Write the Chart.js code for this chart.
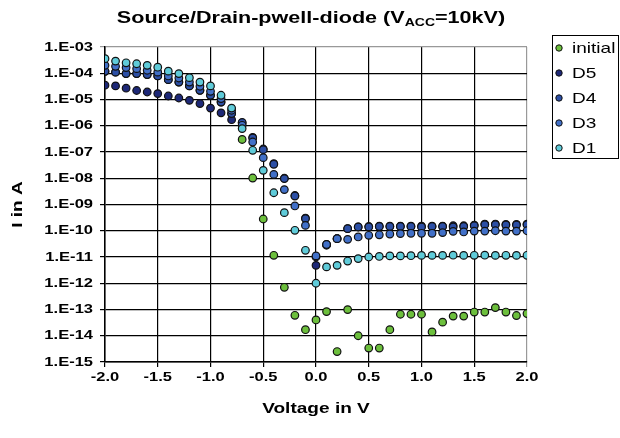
<!DOCTYPE html>
<html><head><meta charset="utf-8">
<script src="https://cdn.jsdelivr.net/npm/chart.js@4/dist/chart.umd.min.js"></script>
<style>
html,body{margin:0;padding:0;background:#fff;}
#wrap{position:relative;width:620px;height:438px;}
#title{position:absolute;left:0;top:8px;width:622px;text-align:center;font:bold 17px "Liberation Sans",Arial,sans-serif;color:#000;line-height:20px;transform:scaleX(1.27);transform-origin:311px 50%;}
#title sub{font-size:11px;vertical-align:-3px;line-height:0;}
canvas{position:absolute;left:0;top:0;}
</style></head>
<body>
<div id="wrap">
<canvas id="c" width="620" height="438"></canvas>
<div id="title">Source/Drain-pwell-diode (V<sub>ACC</sub>=10kV)</div>
</div>
<script>
const voltage = [-2.0,-1.9,-1.8,-1.7,-1.6,-1.5,-1.4,-1.3,-1.2,-1.1,-1.0,-0.9,-0.8,-0.7,-0.6,-0.5,-0.4,-0.3,-0.2,-0.1,0.0,0.1,0.2,0.3,0.4,0.5,0.6,0.7,0.8,0.9,1.0,1.1,1.2,1.3,1.4,1.5,1.6,1.7,1.8,1.9,2.0];

const initial = [1.19e-4,1.1e-4,9.7e-5,9.7e-5,8.9e-5,7.9e-5,5.7e-5,4.6e-5,3.3e-5,2.24e-5,1.45e-5,8.0e-6,2.9e-6,3.0e-7,1.02e-8,2.8e-10,1.16e-11,7.0e-13,6.0e-14,1.7e-14,4.0e-14,8.3e-14,2.5e-15,9.9e-14,1.0e-14,3.4e-15,3.4e-15,1.7e-14,6.6e-14,6.6e-14,6.6e-14,1.4e-14,3.3e-14,5.6e-14,5.6e-14,8.0e-14,8.0e-14,1.18e-13,8.0e-14,5.9e-14,7.0e-14];

const d5 = [3.5e-5,3.3e-5,2.7e-5,2.2e-5,1.93e-5,1.68e-5,1.36e-5,1.14e-5,9.3e-6,7.0e-6,4.7e-6,3.1e-6,1.7e-6,1.27e-6,3.6e-7,1.3e-7,3.6e-8,1.0e-8,2.2e-9,3.0e-10,4.8e-12,2.8e-11,5.0e-11,1.2e-10,1.4e-10,1.45e-10,1.5e-10,1.5e-10,1.5e-10,1.5e-10,1.5e-10,1.5e-10,1.5e-10,1.55e-10,1.55e-10,1.65e-10,1.8e-10,1.8e-10,1.75e-10,1.75e-10,1.8e-10];

const d4 = [1.19e-4,1.1e-4,9.7e-5,9.7e-5,8.9e-5,7.9e-5,5.7e-5,4.6e-5,3.3e-5,2.24e-5,1.45e-5,8.0e-6,2.9e-6,1.35e-6,3.4e-7,1.23e-7,3.4e-8,9.7e-9,2.1e-9,2.9e-10,1.0e-11,3.0e-11,5.0e-11,1.2e-10,1.39e-10,1.4e-10,1.45e-10,1.45e-10,1.45e-10,1.45e-10,1.4e-10,1.45e-10,1.45e-10,1.4e-10,1.45e-10,1.55e-10,1.7e-10,1.7e-10,1.65e-10,1.65e-10,1.7e-10];

const d3 = [2.0e-4,1.84e-4,1.64e-4,1.5e-4,1.3e-4,1.1e-4,7.9e-5,6.6e-5,4.6e-5,3.2e-5,2.05e-5,1.08e-5,3.9e-6,1.04e-6,2.4e-7,6.1e-8,1.4e-8,3.7e-9,8.8e-10,1.6e-10,1.1e-11,3.0e-11,5.0e-11,4.7e-11,5.8e-11,6.7e-11,7.0e-11,7.5e-11,7.8e-11,8.0e-11,8.0e-11,8.0e-11,8.5e-11,9.5e-11,9.0e-11,9.7e-11,9.7e-11,1.0e-10,9.7e-11,9.7e-11,1.0e-10];

const d1 = [3.6e-4,2.9e-4,2.5e-4,2.3e-4,2.0e-4,1.7e-4,1.2e-4,9.7e-5,6.8e-5,4.6e-5,3.3e-5,1.45e-5,4.7e-6,7.8e-7,1.16e-7,2.0e-8,2.8e-9,4.9e-10,1.04e-10,1.8e-11,1.0e-12,4.2e-12,4.8e-12,7.0e-12,8.7e-12,1.0e-11,1.05e-11,1.1e-11,1.1e-11,1.12e-11,1.15e-11,1.15e-11,1.15e-11,1.17e-11,1.15e-11,1.16e-11,1.17e-11,1.15e-11,1.16e-11,1.15e-11,1.16e-11];

const seriesNames = ['initial','D5','D4','D3','D1'];
const yTicks = [1e-3,1e-4,1e-5,1e-6,1e-7,1e-8,1e-9,1e-10,1e-11,1e-12,1e-13,1e-14,1e-15];
const xTicks = [-2.0,-1.5,-1.0,-0.5,0.0,0.5,1.0,1.5,2.0];

const colors = ['#6cbf3c','#1d2877','#2c4fa5','#4170c8','#5fcbd9'];
const seriesData = [initial,d5,d4,d3,d1];

const FONT = '"Liberation Sans", Arial, sans-serif';
const SX = 1.27; // horizontal text stretch seen in the reference

function pts(arr){ return voltage.map((v,i)=>({x:v,y:arr[i]})); }
function fmtExp(v){
  const e = Math.round(Math.log10(v));
  const a = Math.abs(e);
  return '1.E' + (e<0?'-':'+') + (a<10?'0':'') + a;
}

const canvas = document.getElementById('c');
const c2d = canvas.getContext('2d');
const origFill = c2d.fillText.bind(c2d);
c2d.fillText = function(t,x,y){
  this.save(); this.translate(x,y); this.scale(SX,1); origFill(t,0,0); this.restore();
};

const datasets = seriesNames.map((n,i)=>({
  label:n,
  data:pts(seriesData[i]),
  backgroundColor:colors[i],
  borderColor:'#111',
  borderWidth:1.2,
  pointRadius:3.8,
  pointHoverRadius:3.8,
  showLine:false,
  order:seriesNames.length - i
}));

const boxLegend = {
  id:'boxLegend',
  afterDraw(chart){
    const ctx = chart.ctx;
    ctx.save();
    ctx.strokeStyle='#000'; ctx.lineWidth=1;
    ctx.strokeRect(552.5,35.5,66,123);
    chart.data.datasets.forEach((ds,i)=>{
      const y = 48 + i*25;
      ctx.beginPath(); ctx.arc(559,y,3.2,0,Math.PI*2);
      ctx.fillStyle = ds.backgroundColor; ctx.fill();
      ctx.lineWidth=1; ctx.strokeStyle='#111'; ctx.stroke();
      ctx.fillStyle='#000';
      ctx.font='15px ' + FONT;
      ctx.textBaseline='middle'; ctx.textAlign='left';
      ctx.fillText(ds.label,572,y+1);
    });
    ctx.restore();
  }
};

new Chart(canvas,{
  type:'scatter',
  data:{datasets},
  plugins:[boxLegend],
  options:{
    responsive:false,
    animation:false,
    devicePixelRatio:1,
    layout:{padding:{left:0,right:93,top:47,bottom:0}},
    plugins:{legend:{display:false},tooltip:{enabled:false},title:{display:false}},
    scales:{
      x:{
        type:'linear',min:-2,max:2,
        afterFit(s){ s.height = 76; },
        afterBuildTicks(s){ s.ticks = xTicks.map(v=>({value:v})); },
        ticks:{
          callback:(v)=>(Math.abs(v)<1e-9?0:v).toFixed(1),
          font:{family:FONT,size:13,weight:'bold'},
          color:'#000',padding:3,maxRotation:0,autoSkip:false
        },
        grid:{
          color:(c)=> (c.tick && c.tick.value===2) ? '#999' : '#000',
          lineWidth:1.2,tickLength:5,drawTicks:true
        },
        border:{display:true,color:'#000',width:1.5},
        title:{display:true,text:'Voltage in V',color:'#000',
          font:{family:FONT,size:15,weight:'bold'},
          padding:{top:4,bottom:20}}
      },
      y:{
        type:'logarithmic',min:1e-15,max:1e-3,
        afterFit(s){ s.width = 105; },
        afterBuildTicks(s){ s.ticks = yTicks.map(v=>({value:v})); },
        ticks:{
          callback:(v)=>fmtExp(v),
          font:{family:FONT,size:13,weight:'bold'},
          color:'#000',padding:7,autoSkip:false
        },
        grid:{
          color:(c)=> (c.tick && Math.abs(Math.log10(c.tick.value)+3)<0.01) ? '#999' : '#000',
          lineWidth:1.2,tickLength:5,drawTicks:true
        },
        border:{display:true,color:'#000',width:1.5},
        title:{display:true,text:'I in A',color:'#000',
          font:{family:FONT,size:15,weight:'bold'},
          padding:{top:9,bottom:0}}
      }
    }
  }
});
</script>
</body></html>
